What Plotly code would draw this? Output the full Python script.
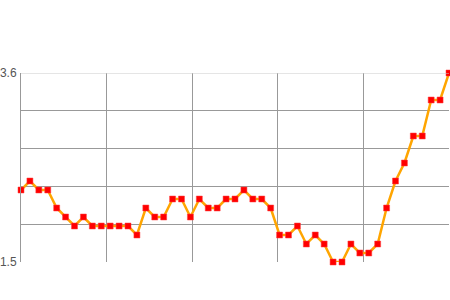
import plotly.graph_objects as go

x_index = list(range(49))
values = [2.3, 2.4, 2.3, 2.3, 2.1, 2.0, 1.9, 2.0, 1.9, 1.9,
          1.9, 1.9, 1.9, 1.8, 2.1, 2.0, 2.0, 2.2, 2.2, 2.0,
          2.2, 2.1, 2.1, 2.2, 2.2, 2.3, 2.2, 2.2, 2.1, 1.8,
          1.8, 1.9, 1.7, 1.8, 1.7, 1.5, 1.5, 1.7, 1.6, 1.6,
          1.7, 2.1, 2.4, 2.6, 2.9, 2.9, 3.3, 3.3, 3.6]
y_ticks = [1.5, 1.92, 2.34, 2.76, 3.18, 3.6]
y_tick_labels = ["1.5", "", "", "", "", "3.6"]
x_ticks = [0, 9.6, 19.2, 28.8, 38.4, 48]

fig = go.Figure()
fig.add_trace(go.Scatter(
    x=x_index, y=values, mode="lines+markers",
    line=dict(color="#FFA500", width=2.5),
    marker=dict(symbol="square", size=6, color="#FF0000",
                line=dict(color="#FF4040", width=0.5)),
    cliponaxis=False, showlegend=False, hoverinfo="skip"))

fig.add_shape(type="line", xref="paper", yref="y", x0=0, x1=1, y0=3.6, y1=3.6,
              line=dict(color="#cccccc", width=1), layer="above")

fig.update_layout(
    width=450, height=300,
    margin=dict(l=21, r=1, t=73, b=38),
    paper_bgcolor="white", plot_bgcolor="white",
    font=dict(family="Liberation Sans, Arial, sans-serif", size=12, color="#555555"),
    xaxis=dict(range=[0, 48], tickvals=x_ticks, showticklabels=False,
               showgrid=True, gridcolor="#999999", gridwidth=1,
               zeroline=False, showline=False, ticks=""),
    yaxis=dict(range=[1.5, 3.6], tickvals=y_ticks, ticktext=y_tick_labels,
               showgrid=True, gridcolor="#999999", gridwidth=1,
               zeroline=False, showline=True, linecolor="#999999", linewidth=1,
               ticks="", ticklabelstandoff=1),
)

fig.write_html("out.html")
